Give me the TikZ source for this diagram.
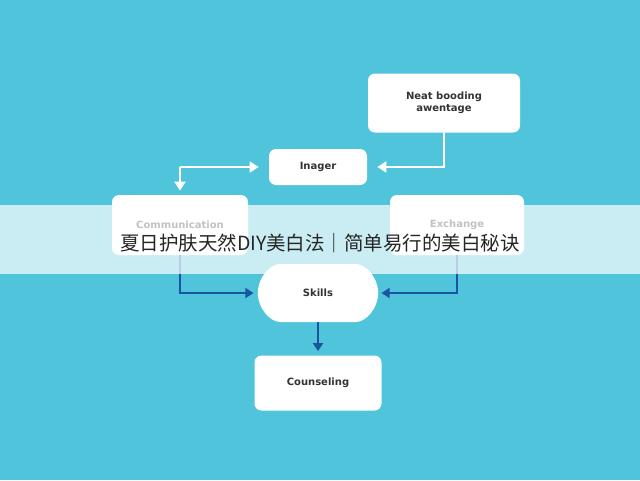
\documentclass[tikz,border=0pt]{standalone}
\usepackage{fontspec}
\setmainfont{DejaVu Sans}
\newfontfamily\cjk{Noto Sans CJK SC}
\usetikzlibrary{positioning,arrows.meta,shapes.misc}
\definecolor{mysky}{RGB}{80,196,218}
\definecolor{mynavy}{RGB}{25,85,160}
\tikzset{every picture/.style={line width=0.75pt}}
\tikzset{
  box/.style={draw=none,fill=white,rounded corners=7pt,align=center,font=\fontsize{10}{12}\selectfont\bfseries,text=black!80},
  whiteline/.style={draw=white,line width=2pt,-{Triangle[length=9pt,width=11pt]}},
  navyline/.style={draw=mynavy,line width=1.8pt,-{Triangle[length=8pt,width=10pt]}}
}
\begin{document}
\begin{tikzpicture}[x=1pt,y=-1pt]
%background
\fill[mysky] (0,0) rectangle (640,480);
\useasboundingbox (0,0) rectangle (640,480);

%boxes
\node[box,minimum width=152pt,minimum height=59pt] (neat) at (444,103) {Neat booding\\awentage};
\node[box,minimum width=98pt,minimum height=36pt] (inager) at (318,167) {Inager};
\node[box,minimum width=136pt,minimum height=60pt] (comm) at (180,225) {Communication};
\node[box,minimum width=134pt,minimum height=60pt] (exch) at (457,225) {Exchange};
\node[box,rounded rectangle,minimum width=127pt,minimum height=58pt] (skills) at (318,293) {Skills};
\node[box,minimum width=127pt,minimum height=55pt] (couns) at (318,383) {Counseling};

%connectors
\coordinate (c1) at (comm.north |- inager.west);
\draw[whiteline] (neat.south) |- ([xshift=10pt]inager.east);
\draw[whiteline] (c1) -- ([xshift=-10pt]inager.west);
\draw[whiteline] (c1) -- ([yshift=4pt]comm.north);
\draw[navyline] (comm.south) |- ([xshift=-4pt]skills.west);
\draw[navyline] (exch.south) |- ([xshift=3pt]skills.east);
\draw[navyline] (skills.south) -- ([yshift=4pt]couns.north);

%title band
\fill[white,opacity=0.7] (0,205) rectangle (640,274);
\node[font=\cjk\fontsize{19.5}{22}\selectfont,text=black!85] (title) at (320,243) {夏日护肤天然DIY美白法｜简单易行的美白秘诀};
\end{tikzpicture}
\end{document}
